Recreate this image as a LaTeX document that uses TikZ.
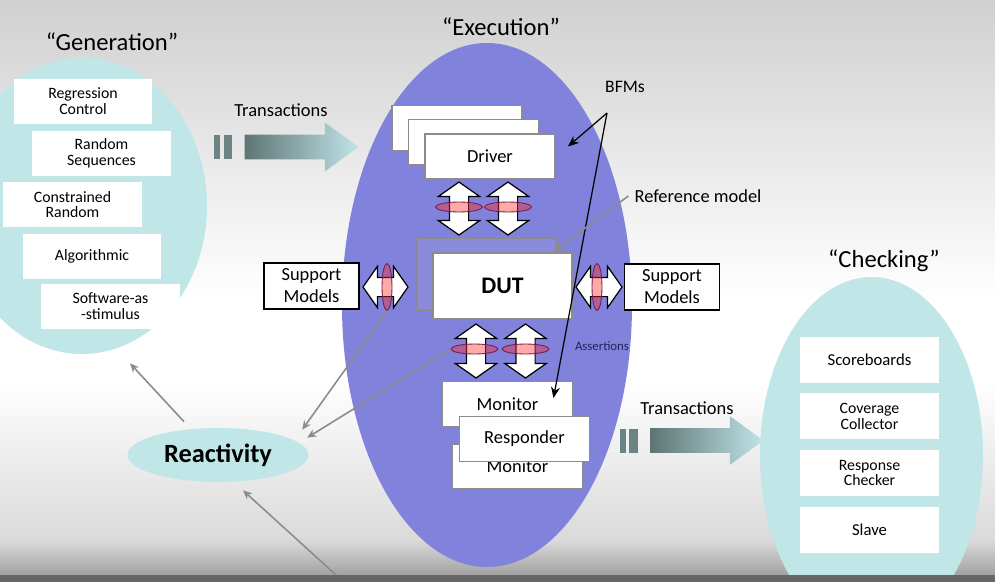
\documentclass[tikz,border=0pt]{standalone}
\usepackage{fontspec}
\setmainfont{Carlito}
\usetikzlibrary{arrows.meta,positioning,shapes.geometric,shapes.arrows}
\definecolor{paleteal}{HTML}{C0E6E8}
\definecolor{exeblue}{HTML}{8082DC}
\definecolor{refblue}{HTML}{8A8CDB}
\definecolor{boxgray}{HTML}{8C8C8C}
\definecolor{trdark}{HTML}{5E7474}
\definecolor{barcol}{HTML}{6B8383}
\definecolor{navytext}{HTML}{22225A}
\definecolor{bgtop}{HTML}{D0D0D0}
\definecolor{bglow}{HTML}{DADADA}
\definecolor{bgdeep}{HTML}{A2A2A2}
\definecolor{bgbar}{HTML}{666666}
\definecolor{ringred}{HTML}{FF2A2A}
\definecolor{ringedge}{HTML}{7A1E4A}
\tikzset{
  blob/.style={ellipse,fill=paleteal,inner sep=0pt},
  grouptitle/.style={font=\fontsize{14}{17}\selectfont},
  genbox/.style={fill=white,minimum width=27.6mm,minimum height=9mm,align=center,
    inner sep=1pt,font=\fontsize{9}{9}\selectfont},
  chkbox/.style={genbox,minimum width=27.8mm,minimum height=9.2mm},
  bfmbox/.style={draw=boxgray,line width=1.1pt,fill=white,minimum width=26mm,
    minimum height=9mm,font=\fontsize{10.5}{12}\selectfont},
  supbox/.style={draw=black,line width=0.8pt,fill=white,minimum width=19mm,
    minimum height=9.2mm,align=center,inner sep=1pt,font=\fontsize{10.5}{12.5}\selectfont},
  dblarrow/.style={double arrow,draw=black,fill=white,line width=0.7pt,
    double arrow head extend=2.2mm,double arrow tip angle=110,inner xsep=0pt,inner ysep=1.8mm},
  ring/.style={ellipse,draw=ringedge,line width=0.5pt,fill=ringred,fill opacity=0.4,inner sep=0pt},
  trarrow/.style={single arrow,left color=trdark,right color=paleteal,
    single arrow head extend=2.4mm,single arrow tip angle=72,inner xsep=0pt,inner ysep=2.4mm},
  trbarbox/.style={fill=barcol,minimum height=4.8mm,inner sep=0pt},
  lbl/.style={font=\fontsize{10.5}{12}\selectfont},
  fback/.style={-{Stealth[length=1.8mm,width=1.6mm]},draw=boxgray,line width=0.9pt},
  bfmarrow/.style={-{Stealth[length=2.2mm,width=1.8mm]},line width=0.7pt},
}
\begin{document}
\begin{tikzpicture}[x=0.2mm,y=-0.2mm,node distance=2mm]
  \clip (0,0) rectangle (995,582);
  \shade[top color=bgtop,bottom color=white] (0,0) rectangle (995,300);
  \fill[white] (0,300) rectangle (995,380);
  \shade[top color=white,bottom color=bglow] (0,380) rectangle (995,540);
  \shade[top color=bglow,bottom color=bgdeep] (0,540) rectangle (995,575);

  \node[blob,minimum width=50mm,minimum height=59.2mm] (gen) at (82,206) {};
  \node[blob,fill=exeblue,minimum width=58mm,minimum height=104.8mm] (exe) at (487,305) {};
  \node[blob,minimum width=44.6mm,minimum height=71.2mm] (chk) at (871.5,455) {};
  \node[blob,minimum width=36.2mm,minimum height=10.8mm,
    font=\fontsize{15}{18}\selectfont\bfseries] (react) at (218,455) {Reactivity};

  \node[grouptitle] (gentitle) at (112,42) {“Generation”};
  \node[grouptitle] (exetitle) at (501,27) {“Execution”};
  \node[grouptitle] (chktitle) at (884,261) {“Checking”};

  \node[genbox] (regr) at (83,101.5) {Regression\\Control};
  \node[genbox] (rseq) at (101.5,153) {Random\\Sequences};
  \node[genbox] (crand) at (72.5,204.5) {Constrained\\Random};
  \node[genbox] (algo) at (92,256.5) {Algorithmic};
  \node[genbox] (swstim) at (110.5,306.5) {Software-as\\-stimulus};

  \node[trbarbox,minimum width=1.2mm] (bara) at (217,147) {};
  \node[trbarbox,minimum width=1.6mm,right=0.6mm of bara] (barb) {};
  \node[trarrow,minimum height=22.8mm] (trin) at (293,147) {};
  \node[lbl] (trinlbl) at (281,110) {Transactions};

  \node[bfmbox] (drvc) at (457,128) {};
  \node[bfmbox] (drvb) at (473.5,142) {};
  \node[bfmbox] (drv) at (490,156.5) {Driver};
  \node[dblarrow,rotate=90,minimum height=10.6mm] (dda) at (459,208.5) {};
  \node[dblarrow,rotate=90,minimum height=10.6mm] (ddb) at (508,208.5) {};
  \node[ring,minimum width=9.4mm,minimum height=2mm] (rda) at (459,207) {};
  \node[ring,minimum width=9.4mm,minimum height=2mm] (rdb) at (508,207) {};

  \node[draw=boxgray,line width=1.1pt,fill=refblue,minimum width=27.8mm,
    minimum height=14.4mm] (ref) at (486.5,274) {};
  \node[bfmbox,minimum width=27.8mm,minimum height=13.2mm,
    font=\fontsize{13.5}{16}\selectfont\bfseries] (dut) at (502.5,286) {DUT};

  \node[supbox] (supl) at (311.5,286) {Support\\Models};
  \node[supbox] (supr) at (672,287) {Support\\Models};
  \node[dblarrow,minimum height=9mm] (dsl) at (385.5,287) {};
  \node[dblarrow,minimum height=9.2mm] (dsr) at (599,287) {};
  \node[ring,minimum width=2mm,minimum height=9.4mm] (rsl) at (387,287) {};
  \node[ring,minimum width=2mm,minimum height=9.4mm] (rsr) at (597,287) {};

  \node[dblarrow,rotate=90,minimum height=10.8mm] (dma) at (476,351) {};
  \node[dblarrow,rotate=90,minimum height=10.8mm] (dmb) at (525.5,351) {};
  \node[ring,minimum width=9.4mm,minimum height=2mm] (rma) at (474.5,349) {};
  \node[ring,minimum width=9.4mm,minimum height=2mm] (rmb) at (525.5,349) {};

  \node[bfmbox] (monb) at (517.5,466.5) {Monitor};
  \node[bfmbox] (mon) at (507.5,404) {Monitor};
  \node[bfmbox] (resp) at (524.5,439) {Responder};

  \node[font=\fontsize{7.3}{9}\selectfont,text=navytext] (asrt) at (602,346) {Assertions};
  \node[lbl] (refl) at (698,196) {Reference model};
  \node[font=\fontsize{10}{12}\selectfont] (bfml) at (625,87) {BFMs};
  \coordinate (bfmfork) at (607,113);

  \draw[bfmarrow] (bfmfork) -- ([shift={(2.4mm,2mm)}]drv.east);
  \draw[bfmarrow] (bfmfork) -- ([shift={(-4mm,1.2mm)}]mon.east);
  \draw[fback] (refl.west) -- ([shift={(-0.6mm,-2.8mm)}]ref.north east);

  \node[trbarbox,minimum width=1.2mm] (barc) at (622.5,440.5) {};
  \node[trbarbox,minimum width=1.8mm,right=0.6mm of barc] (bard) {};
  \node[trarrow,minimum height=22.6mm] (trout) at (698.5,440.5) {};
  \node[lbl] (troutlbl) at (687,408) {Transactions};

  \node[chkbox,font=\fontsize{9.5}{10}\selectfont] (score) at (869.5,359.5) {Scoreboards};
  \node[chkbox,below=of score] (cov) {Coverage\\Collector};
  \node[chkbox,below=of cov] (rchk) {Response\\Checker};
  \node[chkbox,below=of rchk,font=\fontsize{9.5}{10}\selectfont] (slave) {Slave};

  \draw[fback] (rsl.south) -- ([shift={(4mm,1.2mm)}]react.north east);
  \draw[fback] (rma.west) -- ([shift={(5mm,-0.4mm)}]react.north east);
  \draw[fback] ([shift={(-6.8mm,1.2mm)}]react.north) -- ([shift={(9.6mm,-1.8mm)}]gen.south);
  \coordinate (offpage) at (347,585);
  \draw[fback] (offpage) -- ([shift={(5mm,-1.6mm)}]react.south);

  \fill[bgbar] (0,575) rectangle (995,582);
\end{tikzpicture}
\end{document}
